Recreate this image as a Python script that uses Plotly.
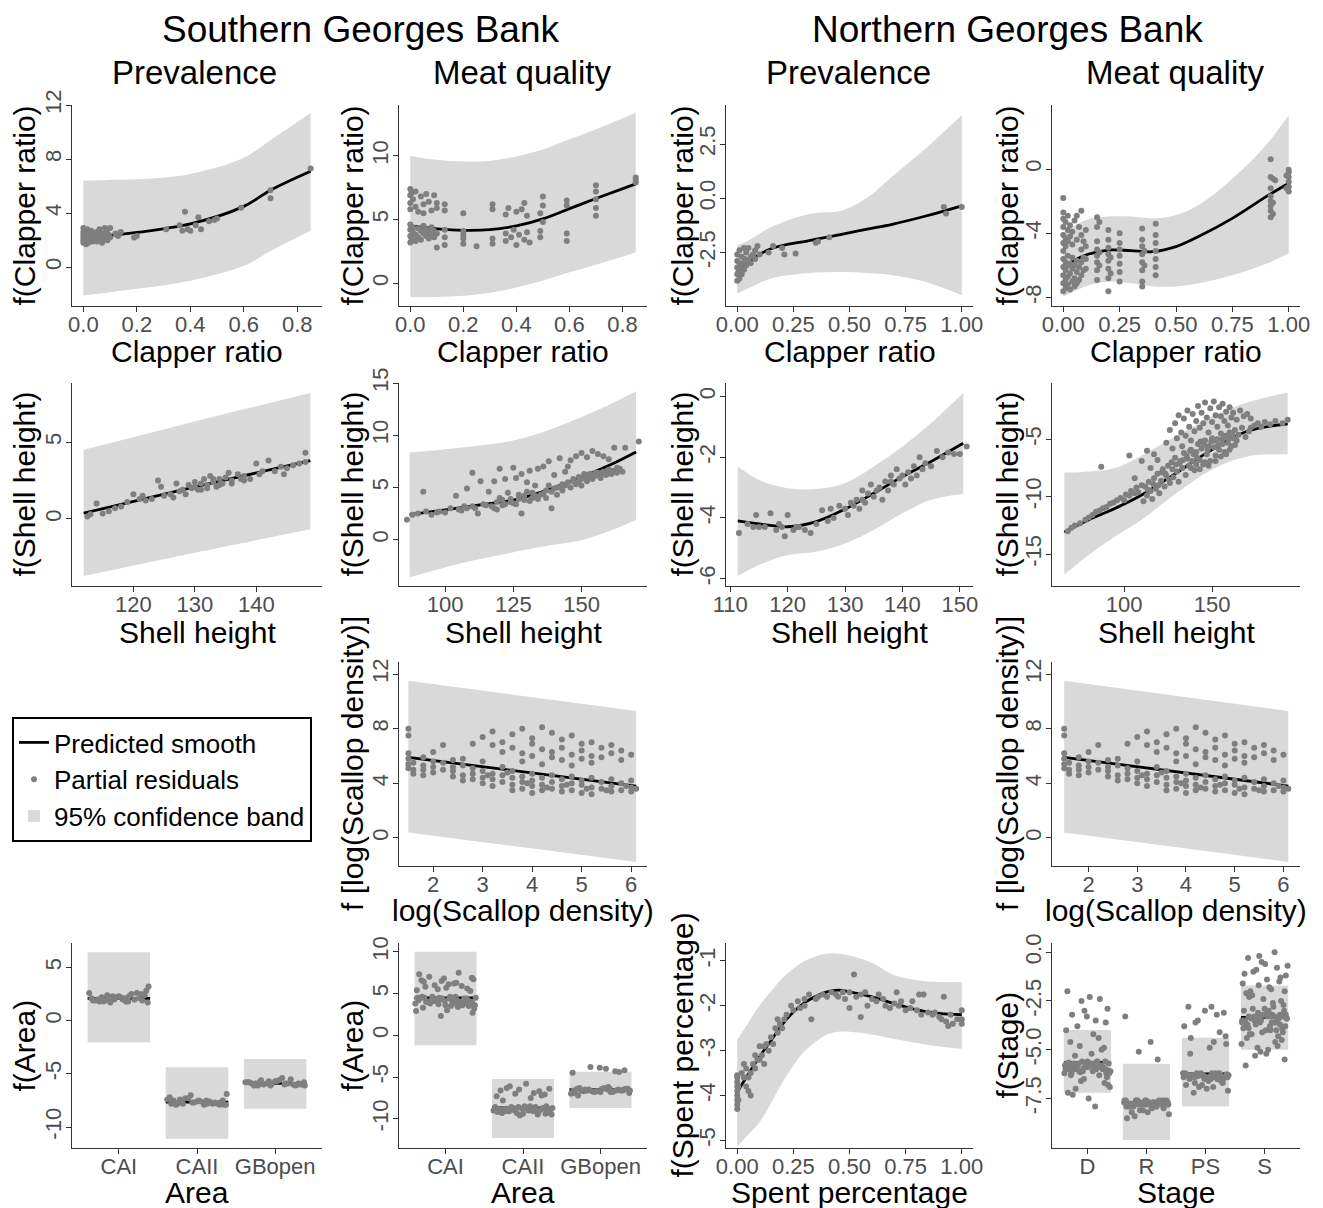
import plotly.graph_objects as go

FONT = "Liberation Sans, Arial, Helvetica, sans-serif"
BAND = "#d9d9d9"
PT = "#7f7f7f"
TICKC = "#4d4d4d"
AXC = "#333333"
OFF = 8                      # page body margin of the html page
W, H = 1323 - OFF, 1208 - OFF
COLS = [(72, 322), (399, 647), (726, 973), (1052, 1300)]     # screen px
ROWS = [(105, 306), (383, 586), (662, 866), (943, 1148)]
YTITLE_X = [24, 352, 682, 1007]
XTITLE_DY = [46, 46, 44, 44]


def fx(p):
    return (p - OFF) / W


def fy(p):
    return 1 - (p - OFF) / H


# ---------------- data ----------------
s_prev_cr_x = [0, 0.1, 0.2, 0.4, 0.6, 0.7, 0.85]
s_prev_cr_fit = [2.2, 2.35, 2.57, 3.2, 4.5, 5.7, 7.1]
s_prev_cr_lo = [-2.1, -1.85, -1.6, -1.0, 0.1, 1.2, 2.7]
s_prev_cr_hi = [6.4, 6.45, 6.5, 6.9, 8.1, 9.4, 11.4]
s_prev_cr_res = [(0.0, 1.8), (0.0, 2.2), (0.0, 2.6), (0.0, 2.0), (0.0, 2.9), (0.0, 2.4), (0.005, 1.9), (0.005, 2.7),
                 (0.01, 2.1), (0.01, 2.5), (0.01, 1.7), (0.015, 2.3), (0.015, 2.8), (0.02, 2.0), (0.02, 2.6), (0.02, 1.8),
                 (0.025, 2.4), (0.03, 2.2), (0.03, 2.7), (0.035, 1.9), (0.04, 2.5), (0.04, 2.1), (0.045, 2.3), (0.05, 2.6),
                 (0.05, 1.9), (0.055, 2.4), (0.06, 2.2), (0.06, 2.8), (0.065, 2.0), (0.07, 2.5), (0.07, 1.8), (0.075, 2.3),
                 (0.08, 2.9), (0.08, 2.1), (0.085, 2.6), (0.09, 2.0), (0.09, 2.8), (0.095, 2.4), (0.1, 2.9), (0.1, 2.2),
                 (0.12, 2.5), (0.13, 2.3), (0.14, 2.6), (0.19, 2.2), (0.2, 2.3), (0.31, 2.8), (0.36, 3.1), (0.37, 2.7),
                 (0.38, 4.1), (0.39, 2.8), (0.4, 2.7), (0.42, 3.1), (0.43, 3.7), (0.44, 2.8), (0.47, 3.4), (0.49, 3.5),
                 (0.5, 3.6), (0.59, 4.4), (0.7, 5.7), (0.7, 5.1), (0.85, 7.3)]

s_meat_cr_x = [0, 0.1, 0.2, 0.3, 0.4, 0.5, 0.6, 0.7, 0.85]
s_meat_cr_fit = [4.5, 4.27, 4.15, 4.2, 4.5, 5.05, 5.85, 6.65, 7.8]
s_meat_cr_lo = [-1.1, -1.1, -1.0, -0.75, -0.35, 0.2, 0.85, 1.45, 2.4]
s_meat_cr_hi = [10.0, 9.7, 9.55, 9.6, 9.95, 10.5, 11.3, 12.1, 13.4]
s_meat_cr_res = [(0, 7.4), (0, 6.9), (0, 6.3), (0, 5.8), (0.005, 7.1), (0.01, 6.6), (0.02, 6.0), (0.02, 7.2), (0.03, 5.6),
                 (0.04, 6.8), (0.05, 6.2), (0.05, 5.5), (0.06, 7.0), (0.07, 6.4), (0.08, 5.7), (0.09, 6.9), (0.1, 6.3),
                 (0.1, 5.9), (0, 3.2), (0, 3.7), (0, 4.2), (0, 4.6), (0.005, 3.5), (0.01, 4.0), (0.01, 4.4), (0.02, 3.3),
                 (0.02, 3.8), (0.03, 4.3), (0.03, 3.6), (0.04, 4.1), (0.04, 3.4), (0.05, 3.9), (0.05, 4.5), (0.06, 3.7),
                 (0.06, 4.2), (0.07, 3.5), (0.07, 4.0), (0.08, 3.8), (0.08, 4.4), (0.09, 3.6), (0.09, 4.1), (0.1, 2.8),
                 (0.1, 3.9), (0.13, 3.0), (0.13, 3.6), (0.13, 4.2), (0.13, 5.7), (0.13, 6.2), (0.2, 3.5), (0.2, 3.8),
                 (0.2, 4.1), (0.2, 3.1), (0.2, 5.5), (0.25, 2.9), (0.31, 3.1), (0.31, 3.5), (0.31, 5.8), (0.31, 6.2),
                 (0.36, 3.3), (0.36, 3.9), (0.36, 5.4), (0.37, 5.9), (0.38, 3.6), (0.39, 4.2), (0.4, 3.0), (0.4, 5.6),
                 (0.41, 3.8), (0.42, 5.8), (0.43, 3.4), (0.43, 6.3), (0.44, 4.0), (0.44, 5.3), (0.45, 3.2), (0.49, 3.6),
                 (0.49, 4.1), (0.49, 5.5), (0.5, 4.8), (0.5, 6.1), (0.5, 6.8), (0.59, 3.3), (0.59, 3.9), (0.59, 6.1),
                 (0.59, 6.5), (0.7, 5.3), (0.7, 5.9), (0.7, 6.6), (0.7, 7.2), (0.7, 7.7), (0.85, 7.9), (0.85, 8.1),
                 (0.85, 8.3)]

n_prev_cr_x = [0, 0.05, 0.15, 0.32, 0.47, 0.58, 0.69, 0.84, 1.0]
n_prev_cr_fit = [-3.5, -2.95, -2.33, -1.95, -1.65, -1.42, -1.2, -0.82, -0.35]
n_prev_cr_lo = [-4.39, -4.15, -3.7, -3.45, -3.4, -3.45, -3.55, -3.86, -4.47]
n_prev_cr_hi = [-2.18, -1.95, -1.34, -0.73, -0.55, 0.03, 1.0, 2.3, 3.84]
n_prev_cr_res = [(0, -3.8), (0, -3.5), (0, -3.2), (0, -2.9), (0, -2.6), (0.005, -3.4), (0.01, -3.7), (0.01, -3.0),
                 (0.01, -2.4), (0.015, -3.2), (0.02, -2.7), (0.02, -3.5), (0.025, -3.0), (0.03, -2.3), (0.03, -3.3),
                 (0.035, -2.8), (0.04, -3.1), (0.04, -2.5), (0.05, -2.9), (0.05, -2.3), (0.06, -2.7), (0.06, -3.0),
                 (0.07, -2.6), (0.08, -2.4), (0.08, -2.8), (0.09, -2.2), (0.1, -2.6), (0.14, -2.5), (0.16, -2.2),
                 (0.2, -2.3), (0.21, -2.6), (0.26, -2.55), (0.35, -2.05), (0.36, -2.0), (0.41, -1.8), (0.92, -0.4),
                 (0.93, -0.7), (1.0, -0.4)]

n_meat_cr_x = [0, 0.1, 0.2, 0.3, 0.4, 0.5, 0.6, 0.75, 0.9, 1.0]
n_meat_cr_fit = [-6.07, -5.35, -5.04, -5.08, -5.14, -4.83, -4.2, -3.07, -1.72, -0.89]
n_meat_cr_lo = [-7.94, -7.3, -7.0, -7.1, -7.3, -7.3, -7.1, -6.6, -5.9, -5.24]
n_meat_cr_hi = [-4.0, -3.17, -2.96, -2.96, -3.07, -2.86, -2.24, -0.6, 1.5, 3.36]
n_meat_cr_res = [(0, -7.6), (0, -7.1), (0, -6.6), (0, -6.1), (0, -5.6), (0, -5.1), (0, -4.6), (0, -4.1), (0, -3.6),
                 (0, -3.1), (0, -2.7), (0, -1.8), (0.01, -7.4), (0.01, -6.9), (0.01, -6.3), (0.01, -5.8), (0.01, -4.8),
                 (0.01, -4.3), (0.01, -3.3), (0.02, -7.2), (0.02, -6.7), (0.02, -6.0), (0.02, -5.4), (0.02, -4.5),
                 (0.02, -3.8), (0.02, -2.9), (0.03, -7.5), (0.03, -6.5), (0.03, -5.9), (0.03, -4.2), (0.03, -3.5),
                 (0.04, -7.0), (0.04, -6.2), (0.04, -5.5), (0.04, -4.7), (0.04, -3.9), (0.05, -7.3), (0.05, -6.8),
                 (0.05, -6.0), (0.05, -3.2), (0.06, -7.1), (0.06, -6.4), (0.06, -5.7), (0.06, -4.4), (0.06, -2.9),
                 (0.07, -6.9), (0.07, -6.1), (0.07, -3.6), (0.08, -6.6), (0.08, -5.8), (0.08, -5.0), (0.08, -4.1),
                 (0.08, -2.6), (0.09, -6.3), (0.09, -5.5), (0.09, -4.5), (0.1, -6.2), (0.1, -5.6), (0.1, -4.8),
                 (0.1, -3.8), (0.15, -6.9), (0.15, -6.3), (0.15, -5.8), (0.15, -5.4), (0.15, -5.0), (0.15, -4.5),
                 (0.15, -3.6), (0.15, -3.0), (0.16, -6.0), (0.16, -5.2), (0.16, -3.3), (0.2, -7.6), (0.2, -6.8),
                 (0.2, -6.2), (0.2, -5.7), (0.2, -5.3), (0.2, -4.9), (0.2, -4.4), (0.2, -3.8), (0.21, -6.5),
                 (0.21, -5.5), (0.25, -7.0), (0.25, -6.4), (0.25, -5.9), (0.25, -5.4), (0.25, -5.0), (0.25, -4.6),
                 (0.25, -4.0), (0.35, -7.3), (0.35, -7.0), (0.35, -6.3), (0.35, -5.8), (0.35, -5.3), (0.35, -4.8),
                 (0.35, -4.4), (0.35, -3.7), (0.36, -6.0), (0.36, -5.1), (0.41, -6.6), (0.41, -6.1), (0.41, -5.6),
                 (0.41, -5.1), (0.41, -4.6), (0.41, -4.1), (0.41, -3.4), (0.92, -3.0), (0.92, -2.6), (0.92, -2.3),
                 (0.92, -2.0), (0.92, -1.7), (0.92, -1.2), (0.92, -0.5), (0.92, 0.6), (0.93, -2.8), (0.93, -2.1),
                 (0.93, -0.6), (0.94, -0.7), (1.0, -1.4), (1.0, -1.1), (1.0, -0.8), (1.0, -0.5), (1.0, -0.2),
                 (1.0, -0.05), (0.99, -1.2), (0.99, -0.4)]

s_prev_sh_x = [111.9, 130, 148.8]
s_prev_sh_fit = [0.37, 2.08, 3.8]
s_prev_sh_lo = [-3.72, -2.2, -0.67]
s_prev_sh_hi = [4.5, 6.35, 8.2]
s_prev_sh_res = [(112.5, 0.15), (113, 0.3), (114, 1.0), (115, 0.35), (116, 0.5), (117, 0.7), (118, 0.8), (119, 1.1),
                 (120, 1.6), (121, 1.3), (121.5, 1.5), (122, 1.2), (123, 1.3), (124, 2.5), (124.5, 2.1), (125, 1.5),
                 (126, 1.6), (126.5, 1.4), (127, 2.3), (127.5, 1.8), (128, 1.9), (128.5, 1.6), (129, 2.2), (129.5, 2.0),
                 (130, 2.4), (130.5, 1.9), (131, 2.3), (131.5, 2.6), (132, 2.2), (132.5, 2.8), (133, 2.4), (133.5, 2.1),
                 (134, 2.6), (134.5, 2.3), (135, 2.7), (135.5, 3.0), (136, 2.5), (137, 2.9), (137.5, 2.6), (138, 2.8),
                 (139, 2.6), (140, 3.6), (140.5, 2.9), (141, 3.1), (142, 3.8), (143, 3.1), (144, 3.4), (144.5, 2.9),
                 (145, 3.3), (146, 3.5), (147, 3.6), (148, 4.3), (148, 3.7), (130, 2.1), (131, 1.9), (132, 2.0),
                 (133, 2.6), (134, 2.2), (136, 2.3), (138, 2.5)]

s_meat_sh_x = [87, 100, 112, 125, 137, 150, 160, 170]
s_meat_sh_fit = [2.4, 2.85, 3.3, 3.8, 4.7, 6.0, 7.1, 8.4]
s_meat_sh_lo = [-3.6, -2.65, -1.9, -1.2, -0.6, -0.06, 0.8, 1.88]
s_meat_sh_hi = [8.35, 8.67, 9.0, 9.5, 10.4, 11.75, 12.9, 14.2]
s_meat_sh_res = [(86, 1.9), (88, 2.4), (92, 4.6), (95, 2.4), (98, 2.7), (100, 2.6), (104, 4.2), (105, 2.9), (108, 3.0),
                 (108, 4.9), (110, 6.4), (110, 3.2), (112, 2.5), (113, 5.6), (115, 3.3), (116, 4.6), (118, 5.6),
                 (118, 3.0), (119, 3.6), (120, 6.8), (120, 4.0), (121, 3.3), (122, 5.8), (123, 4.5), (124, 3.9),
                 (125, 6.9), (125, 3.5), (126, 5.9), (127, 4.3), (128, 6.3), (128, 2.5), (129, 3.8), (130, 5.5),
                 (130, 4.6), (131, 6.6), (132, 4.0), (133, 5.2), (134, 6.8), (135, 4.3), (136, 7.0), (137, 4.7),
                 (138, 7.5), (138, 5.2), (139, 3.0), (140, 6.2), (141, 5.0), (142, 7.8), (143, 5.3), (144, 6.5),
                 (145, 7.0), (145, 5.5), (146, 7.6), (147, 5.8), (148, 8.0), (149, 6.0), (150, 8.3), (150, 5.2),
                 (151, 6.3), (152, 7.9), (153, 6.0), (154, 8.5), (155, 6.4), (156, 8.2), (157, 6.2), (158, 8.0),
                 (159, 6.5), (160, 7.7), (161, 6.6), (162, 8.8), (163, 6.4), (164, 6.8), (166, 8.8), (171, 9.4),
                 (90, 2.5), (93, 2.7), (97, 2.6), (102, 3.0), (106, 2.8), (107, 3.2), (111, 3.0), (114, 3.4),
                 (117, 3.2), (119, 2.9), (121, 3.8), (122, 3.4), (124, 3.6), (126, 3.4), (127, 3.9), (129, 4.2),
                 (131, 3.7), (132, 4.5), (133, 4.2), (134, 3.9), (136, 4.4), (137, 4.0), (139, 4.6), (140, 4.9),
                 (141, 4.3), (142, 5.0), (143, 4.7), (144, 5.2), (146, 5.0), (147, 5.6), (148, 5.3), (149, 5.6),
                 (150, 5.8), (151, 6.0), (152, 5.6), (153, 6.3), (154, 5.8), (155, 6.1), (156, 6.4), (157, 5.9),
                 (158, 6.5), (159, 6.2), (160, 6.7), (161, 6.3), (162, 6.6), (163, 6.9), (165, 6.5)]

n_prev_sh_x = [111.3, 115, 120, 125, 130, 135, 140, 145, 150.6]
n_prev_sh_fit = [-4.1, -4.2, -4.29, -4.12, -3.71, -3.19, -2.64, -2.14, -1.54]
n_prev_sh_lo = [-5.91, -5.55, -5.22, -5.11, -4.84, -4.4, -3.85, -3.4, -3.21]
n_prev_sh_hi = [-2.31, -2.75, -3.02, -3.05, -2.86, -2.31, -1.65, -0.88, 0.11]
n_prev_sh_res = [(111.5, -4.5), (113, -4.2), (114, -4.3), (114.5, -3.9), (115, -4.3), (116, -4.3), (117, -3.85),
                 (118, -4.4), (119, -4.3), (119.5, -4.6), (120, -3.9), (121, -4.4), (122, -4.3), (123, -4.4),
                 (124, -4.5), (125, -4.2), (126, -3.75), (127, -4.1), (127.5, -3.7), (128, -4.0), (129, -3.6),
                 (130, -3.7), (130.5, -3.9), (131, -3.5), (132, -3.4), (132.5, -3.7), (133, -3.1), (133.5, -3.5),
                 (134, -3.2), (134.5, -2.9), (135, -3.3), (136, -3.0), (136.5, -3.4), (137, -2.8), (137.5, -3.1),
                 (138, -2.6), (138.5, -2.9), (139, -2.4), (139.5, -2.7), (140, -2.6), (140.5, -2.9), (141, -2.5),
                 (142, -2.3), (142.5, -2.6), (143, -2.0), (143.5, -2.4), (144, -2.2), (145, -2.3), (146, -1.8),
                 (147, -2.0), (148, -1.85), (149, -1.9), (150, -1.9), (151.2, -1.65), (131.5, -3.6), (133, -3.4),
                 (135.5, -3.1), (138, -2.8), (141.5, -2.7), (121.5, -4.3), (118.5, -4.2)]

n_meat_sh_x = [66, 80, 95, 110, 130, 150, 170, 193]
n_meat_sh_fit = [-13.08, -12.0, -11.0, -9.85, -7.9, -5.9, -4.3, -3.65]
n_meat_sh_lo = [-16.8, -15.06, -13.45, -12.0, -9.66, -7.62, -6.5, -6.31]
n_meat_sh_hi = [-7.9, -7.8, -7.5, -6.4, -4.7, -3.0, -1.8, -0.92]
n_meat_sh_res = [(68, -13.0), (70, -12.7), (72, -12.5), (75, -12.3), (78, -12.0), (80, -11.8), (82, -11.6),
                 (84, -11.3), (86, -11.2), (88, -11.0), (90, -10.9), (92, -10.6), (94, -10.5), (96, -10.3),
                 (98, -10.1), (100, -10.3), (101, -9.8), (103, -9.9), (104, -9.5), (106, -9.7), (107, -9.2),
                 (108, -9.6), (110, -9.0),
                 (111, -10.4), (112, -9.1), (113, -9.9), (114, -8.7), (115, -9.5), (116, -10.2), (117, -8.4),
                 (118, -9.3), (119, -8.0), (120, -9.7), (121, -8.6), (122, -7.6), (123, -9.1), (124, -8.2),
                 (125, -7.3), (126, -8.8), (127, -7.0), (128, -8.3), (129, -6.6), (130, -7.8), (131, -8.7),
                 (132, -6.9), (133, -7.5), (134, -6.2), (135, -8.1), (136, -6.7), (137, -7.3), (138, -5.9),
                 (139, -6.9), (140, -7.7), (141, -6.1), (142, -5.4), (143, -6.8), (144, -5.8), (145, -7.2),
                 (146, -5.1), (147, -6.3), (148, -5.6), (149, -6.9), (150, -4.9), (151, -5.7), (152, -6.4),
                 (153, -5.0), (154, -5.9), (155, -4.5), (156, -5.4), (157, -6.1), (158, -4.8), (159, -5.3),
                 (160, -4.4), (161, -5.6), (162, -4.9), (163, -4.2), (164, -5.1), (165, -4.6), (167, -4.0),
                 (169, -4.8), (171, -4.3),
                 (113.5, -9.4), (116.5, -8.9), (119.5, -9.0), (121.5, -7.9), (123.5, -8.0), (125.5, -8.5),
                 (127.5, -7.6), (129.5, -7.2), (131.5, -7.1), (133.5, -6.8), (135.5, -6.4), (137.5, -6.0),
                 (139.5, -6.3), (141.5, -6.6), (143.5, -5.2), (145.5, -5.5), (147.5, -5.9), (149.5, -5.2),
                 (151.5, -5.1), (153.5, -5.5), (155.5, -5.0), (157.5, -4.7), (159.5, -4.9), (161.5, -4.6),
                 (124, -5.3), (126, -4.2), (127.5, -5.8), (129, -3.6), (130, -4.9), (131, -2.9), (132.5, -4.4),
                 (133, -5.6), (134, -3.2), (135, -4.7), (136, -2.5), (137, -3.9), (138, -5.1), (139, -2.8),
                 (140, -4.3), (141, -3.4), (142, -2.1), (143, -4.0), (144, -2.7), (145, -3.6), (146, -1.8),
                 (147, -3.1), (148, -4.4), (149, -2.3), (150, -3.5), (151, -1.7), (152, -2.9), (153, -3.9),
                 (154, -2.2), (155, -3.0), (156, -1.9), (157, -3.4), (158, -2.6), (159, -3.8), (160, -2.2),
                 (161, -3.1), (162, -2.7), (164, -3.3), (166, -2.5), (168, -3.0), (170, -2.8), (172, -3.2),
                 (138, -7.5), (141, -7.2), (143, -7.6), (146, -7.0), (148, -7.3), (152, -6.9), (155, -6.5),
                 (158, -6.3), (160, -5.9), (163, -5.5),
                 (172, -4.0), (174, -3.8), (176, -3.6), (178, -3.9), (180, -3.5), (183, -3.7), (186, -3.4),
                 (190, -3.6), (193, -3.3),
                 (87, -7.4), (103, -6.4), (106, -8.4), (110, -6.9), (113, -6.0), (115, -7.5), (117, -6.3),
                 (119, -6.8)]

ld_x = [1.5, 6.1]
ld_fit = [5.9, 3.8]
ld_lo = [0.4, -1.75]
ld_hi = [11.5, 9.3]
ld_res = [(1.5, 8.0), (1.5, 7.5), (1.5, 6.2), (1.5, 5.8), (1.5, 5.4), (1.5, 5.1), (1.6, 5.5), (1.6, 5.0), (1.6, 4.7),
          (1.8, 5.9), (1.8, 5.3), (1.8, 5.0), (1.8, 4.6), (2.0, 6.3), (2.0, 5.6), (2.0, 5.2), (2.0, 4.8), (2.2, 5.5),
          (2.2, 5.0), (2.2, 6.8), (2.4, 5.7), (2.4, 5.2), (2.4, 4.9), (2.4, 4.5), (2.6, 5.8), (2.6, 5.3), (2.6, 4.6),
          (2.6, 4.2), (2.8, 6.9), (2.8, 5.1), (2.8, 4.7), (2.8, 4.3), (3.0, 7.4), (3.0, 5.6), (3.0, 4.9), (3.0, 4.4),
          (3.0, 4.0), (3.2, 7.8), (3.2, 6.8), (3.2, 4.7), (3.2, 4.3), (3.2, 3.8), (3.4, 7.0), (3.4, 6.3), (3.4, 5.2),
          (3.4, 4.6), (3.4, 4.1), (3.6, 7.6), (3.6, 6.6), (3.6, 4.9), (3.6, 4.4), (3.6, 3.9), (3.6, 3.5), (3.8, 8.0),
          (3.8, 6.2), (3.8, 5.6), (3.8, 4.5), (3.8, 4.1), (3.8, 3.6), (4.0, 7.3), (4.0, 6.9), (4.0, 6.0), (4.0, 4.7),
          (4.0, 4.2), (4.0, 3.8), (4.0, 3.3), (4.2, 8.1), (4.2, 6.5), (4.2, 5.4), (4.2, 4.4), (4.2, 3.9), (4.2, 3.5),
          (4.4, 7.7), (4.4, 6.3), (4.4, 5.9), (4.4, 4.6), (4.4, 4.1), (4.4, 3.6), (4.6, 7.2), (4.6, 6.6), (4.6, 5.7),
          (4.6, 4.3), (4.6, 3.8), (4.6, 3.4), (4.8, 7.5), (4.8, 6.1), (4.8, 5.3), (4.8, 4.5), (4.8, 4.0), (4.8, 3.5),
          (5.0, 6.9), (5.0, 6.4), (5.0, 5.8), (5.0, 4.2), (5.0, 3.9), (5.0, 3.3), (5.2, 7.0), (5.2, 6.0), (5.2, 5.5),
          (5.2, 4.4), (5.2, 3.7), (5.2, 3.2), (5.4, 6.6), (5.4, 5.9), (5.4, 4.1), (5.4, 3.6), (5.6, 6.8), (5.6, 6.2),
          (5.6, 4.3), (5.6, 3.8), (5.6, 3.4), (5.8, 6.4), (5.8, 5.7), (5.8, 4.0), (5.8, 3.5), (6.0, 6.1), (6.0, 4.2),
          (6.0, 3.7), (6.0, 3.4), (6.1, 3.6), (3.1, 4.6), (3.5, 4.8), (3.9, 4.0), (4.3, 3.7), (4.7, 3.9), (5.1, 3.6),
          (5.5, 3.5), (5.9, 3.8)]

n_prev_sp_x = [0, 0.05, 0.1, 0.15, 0.2, 0.25, 0.3, 0.35, 0.4, 0.45, 0.5, 0.6, 0.7, 0.8, 0.9, 1.0]
n_prev_sp_fit = [-3.92, -3.52, -3.13, -2.78, -2.42, -2.14, -1.93, -1.79, -1.69, -1.65, -1.69, -1.8, -1.95, -2.09, -2.17, -2.2]
n_prev_sp_lo = [-5.14, -4.87, -4.59, -4.17, -3.72, -3.33, -3.01, -2.8, -2.64, -2.58, -2.58, -2.64, -2.74, -2.83, -2.91, -2.96]
n_prev_sp_hi = [-2.76, -2.37, -1.99, -1.68, -1.39, -1.17, -1.0, -0.9, -0.84, -0.84, -0.88, -1.04, -1.32, -1.43, -1.47, -1.47]
n_prev_sp_res = [(0, -4.3), (0, -4.2), (0, -4.1), (0, -4.0), (0, -3.9), (0, -3.8), (0, -3.7), (0, -3.6), (0, -3.55),
                 (0.005, -4.1), (0.005, -3.8), (0.02, -3.5), (0.03, -3.3), (0.03, -3.6), (0.04, -3.8), (0.04, -3.4),
                 (0.05, -3.9), (0.05, -3.6), (0.06, -4.0), (0.06, -3.5), (0.07, -3.3), (0.08, -3.1), (0.08, -3.4),
                 (0.09, -3.2), (0.1, -2.9), (0.1, -3.2), (0.11, -3.1), (0.12, -2.9), (0.12, -3.3), (0.13, -2.85),
                 (0.14, -3.0), (0.15, -2.7), (0.16, -2.85), (0.17, -2.5), (0.18, -2.3), (0.18, -2.6), (0.19, -2.4),
                 (0.2, -2.5), (0.21, -2.3), (0.22, -2.2), (0.24, -2.0), (0.25, -2.1), (0.27, -1.9), (0.28, -2.05),
                 (0.3, -1.85), (0.3, -2.0), (0.32, -1.75), (0.33, -2.3), (0.35, -1.85), (0.36, -1.8), (0.38, -1.75),
                 (0.4, -1.8), (0.42, -1.7), (0.44, -1.75), (0.45, -1.8), (0.47, -1.7), (0.48, -1.85), (0.5, -1.7),
                 (0.5, -2.05), (0.52, -1.3), (0.53, -1.8), (0.55, -1.75), (0.55, -2.25), (0.57, -1.7), (0.58, -2.0),
                 (0.6, -1.85), (0.62, -1.9), (0.63, -1.75), (0.65, -1.85), (0.66, -2.0), (0.68, -2.05), (0.7, -1.95),
                 (0.71, -1.7), (0.72, -2.0), (0.73, -1.9), (0.75, -2.1), (0.77, -2.05), (0.78, -1.9), (0.8, -2.1),
                 (0.81, -1.75), (0.82, -2.2), (0.83, -1.75), (0.85, -2.15), (0.87, -2.2), (0.88, -2.15),
                 (0.9, -2.25), (0.91, -2.3), (0.92, -1.8), (0.93, -2.35), (0.94, -2.45), (0.95, -2.2), (0.96, -2.4),
                 (0.98, -2.3), (1.0, -2.1), (1.0, -2.3), (1.0, -2.4)]

areas = ["CAI", "CAII", "GBopen"]
s_prev_area_fit = [2.1, -7.65, -5.9]
s_prev_area_lo = [-2.04, -11.1, -8.28]
s_prev_area_hi = [6.43, -4.39, -3.6]
s_prev_area_res = [
    [2.1, 1.8, 2.3, 1.9, 2.2, 2.0, 1.7, 2.4, 2.0, 1.9, 2.3, 2.1, 2.6, 1.8, 2.2, 2.4, 1.9, 2.5, 2.0, 2.6,
     1.7, 3.2, 1.9, 2.2, 2.5, 1.8, 2.3, 2.0, 2.8, 1.8, 2.1, 2.0],
    [-7.2, -7.5, -7.0, -7.7, -7.4, -7.6, -7.9, -7.3, -7.8, -7.5, -7.6, -7.8, -7.4, -7.9, -7.7, -7.5, -7.8, -7.6,
     -7.9, -7.7, -7.3, -6.9, -7.8, -7.5, -7.9, -7.6, -7.8, -7.7, -7.9, -7.8],
    [-5.8, -6.0, -5.7, -5.9, -6.1, -5.6, -5.8, -6.0, -5.5, -5.9, -5.7, -6.1, -5.8, -5.4, -5.9, -6.0, -5.6, -5.9,
     -6.1, -6.0, -5.9, -6.1, -5.8, -5.7, -6.0, -5.8, -5.9, -6.1, -6.0, -5.9]]
s_meat_area_fit = [4.49, -8.7, -6.52]
s_meat_area_lo = [-1.19, -12.29, -8.7]
s_meat_area_hi = [10.0, -5.25, -4.37]
s_meat_area_res = [
    [4.2, 3.8, 4.5, 3.5, 4.0, 4.4, 3.2, 4.1, 3.9, 4.6, 3.6, 4.3, 2.9, 4.0, 4.4, 3.7, 4.2, 3.4, 4.5, 3.9,
     4.1, 3.6, 4.4, 3.0, 4.2, 3.8, 4.6, 2.3, 2.7, 4.0, 3.5, 4.3, 3.9, 4.5, 3.7, 4.1, 4.4, 3.3, 4.2, 4.6,
     6.3, 5.8, 6.9, 5.5, 6.1, 7.3, 5.9, 6.5, 5.6, 7.0, 6.2, 5.4, 6.7, 6.0, 5.7, 6.4, 7.5, 5.3, 6.8, 6.6,
     4.3, 3.9, 4.1, 4.5, 3.7, 4.2, 4.0, 4.4, 3.8, 4.6, 4.1, 3.6, 4.3, 4.0, 4.5, 3.9],
    [-9.0, -8.7, -9.3, -8.5, -9.1, -8.8, -9.5, -8.6, -9.2, -8.9, -9.4, -8.7, -9.0, -8.5, -9.6, -8.8, -9.1, -8.6,
     -9.3, -8.9, -9.0, -8.7, -9.2, -8.5, -9.4, -8.8, -9.1, -8.6, -9.3, -8.9, -9.0, -8.7, -9.5, -8.6, -9.2, -8.8,
     -7.2, -6.6, -7.5, -6.1, -6.9, -7.8, -6.4, -7.0, -5.8, -7.3, -6.7, -6.5, -7.1, -6.3],
    [-6.6, -6.4, -6.8, -6.5, -6.7, -6.3, -6.9, -6.5, -6.6, -6.4, -6.8, -6.6, -7.0, -6.5, -6.7, -6.4, -6.6, -6.8,
     -6.3, -6.5, -6.7, -6.6, -6.9, -6.4, -6.6, -6.5, -6.8, -6.7, -6.4, -6.6, -4.0, -3.8, -4.3, -4.5, -4.2,
     -3.9, -4.4, -7.2, -6.2, -6.6]]
stages = ["D", "R", "PS", "S"]
n_meat_stage_fit = [-5.64, -7.73, -6.24, -3.34]
n_meat_stage_lo = [-7.2, -9.62, -7.9, -5.0]
n_meat_stage_hi = [-3.98, -5.72, -4.38, -1.71]
n_meat_stage_res = [
    [-5.7, -5.9, -6.1, -5.6, -6.0, -5.8, -6.2, -5.7, -6.3, -5.9, -5.6, -6.0, -5.8, -6.1, -5.7, -6.4, -5.9, -5.6,
     -6.2, -5.8, -6.6, -6.9, -7.2, -7.5, -6.7, -7.0, -7.9, -6.5, -6.8, -7.3, -5.2, -4.8, -4.4, -4.0, -3.6,
     -3.3, -5.0, -4.6, -4.2, -3.8, -3.5, -3.2, -2.9, -2.5, -2.3, -2.0, -2.4, -3.0, -4.9, -5.3, -5.8, -6.0,
     -5.7, -6.1, -5.9, -6.3, -5.6, -6.2, -5.8, -6.0, -5.7, -5.9, -5.8, -6.1, -5.6, -6.0, -5.8, -5.9, -6.2, -5.7,
     -5.75, -5.85, -5.95, -6.05, -5.65, -5.9, -6.15, -5.8, -6.0, -5.7],
    [-7.6, -7.7, -7.8, -7.6, -7.9, -7.7, -7.8, -7.6, -7.7, -7.9, -7.8, -7.6, -7.7, -8.0, -7.8, -7.7, -7.6, -7.9,
     -7.8, -7.7, -8.1, -8.3, -8.5, -8.2, -8.0, -8.4, -7.9, -8.1, -7.8, -8.2, -4.6, -5.1, -5.5, -3.3, -7.7,
     -7.6, -7.8, -7.9, -7.7, -7.6, -7.7, -7.8, -7.6, -7.7, -7.8, -7.9, -7.6, -7.7, -7.65, -7.75, -7.85,
     -7.6, -7.7, -7.8, -7.65, -7.75, -7.9, -7.7, -7.6, -7.8],
    [-6.3, -6.4, -6.2, -6.5, -6.3, -6.6, -6.4, -6.2, -6.5, -6.3, -6.4, -6.6, -6.2, -6.5, -6.3, -6.4, -6.7, -6.3,
     -6.5, -6.2, -6.9, -7.1, -6.8, -7.0, -6.7, -7.2, -6.9, -6.8, -4.7, -4.4, -4.9, -3.5, -3.2, -3.8, -3.1,
     -3.0, -4.1, -2.8, -2.8, -3.6, -4.6, -5.2, -4.3, -6.3, -6.4, -6.2, -6.5, -6.3, -6.4, -6.3, -6.2, -6.4,
     -6.25, -6.35, -6.45, -6.3, -6.2, -6.4, -6.5, -6.3, -6.35, -6.25, -6.4, -6.3],
    [-3.0, -3.3, -3.6, -3.9, -4.2, -3.1, -3.4, -3.7, -4.0, -4.4, -2.9, -3.2, -3.5, -3.8, -4.1, -3.0, -3.3, -3.6,
     -3.9, -4.3, -3.1, -3.4, -3.7, -4.0, -4.5, -2.9, -3.2, -3.5, -3.8, -4.2, -3.0, -3.3, -3.6, -3.9, -4.1,
     -3.2, -3.4, -3.7, -4.0, -3.5, -2.6, -2.3, -2.0, -1.7, -1.4, -1.1, -0.8, -0.5, -2.5, -2.2, -1.9, -1.6,
     -1.2, -0.9, -0.6, -0.3, 0.0, -2.7, -2.4, -2.1, -1.8, -1.5, -1.0, -0.7, -0.2, -2.8, -2.0, -1.3, -4.7,
     -5.0, -5.3, -4.8, -5.1, -5.5, -5.8, -4.6, -4.9, -5.2, -3.3, -3.4, -3.2, -3.5, -3.3, -3.6, -3.4, -3.2,
     -3.5, -3.3, -3.7, -3.4, -3.3, -3.6, -3.2, -3.4]]
jitter = [-0.35, 0.12, -0.08, 0.3, -0.22, 0.05, 0.37, -0.15, 0.2, -0.3, 0.0, 0.26, -0.38, 0.09, -0.04, 0.33,
          -0.18, 0.16, -0.27, 0.23, -0.11, 0.38, -0.33, 0.02, 0.29, -0.2, 0.13, -0.06, 0.35, -0.25, 0.07, -0.13,
          0.19, -0.36, 0.31, -0.01, 0.24, -0.29, 0.1, -0.17, 0.14, -0.26, 0.34, -0.1, 0.04, -0.34, 0.21, -0.05,
          0.28, -0.21, 0.11, -0.37, 0.36, -0.14, 0.01, -0.28, 0.17, 0.32, -0.02, -0.31, 0.08, 0.25, -0.19, 0.39,
          -0.09, 0.15, -0.24, 0.27, -0.39, 0.06, -0.16, 0.22, -0.07, 0.34, -0.32, 0.18, -0.12, 0.03, 0.3, -0.23,
          -0.03, 0.21, -0.27, 0.12, -0.15, 0.36, -0.33, 0.05, 0.26, -0.08, 0.17, -0.38, 0.31, -0.2, 0.09, -0.12]

panels = [
    dict(r=0, c=0, kind="cont", d=(s_prev_cr_x, s_prev_cr_fit, s_prev_cr_lo, s_prev_cr_hi, s_prev_cr_res),
         xr=[-0.0425, 0.8925], yr=[-2.87, 12.0], xt=[0, 0.2, 0.4, 0.6, 0.8], xd=1, yt=[0, 4, 8, 12], yd=0,
         xl="Clapper ratio", yl="f(Clapper ratio)", leg=True),
    dict(r=0, c=1, kind="cont", d=(s_meat_cr_x, s_meat_cr_fit, s_meat_cr_lo, s_meat_cr_hi, s_meat_cr_res),
         xr=[-0.0425, 0.8925], yr=[-1.8, 14.0], xt=[0, 0.2, 0.4, 0.6, 0.8], xd=1, yt=[0, 5, 10], yd=0,
         xl="Clapper ratio", yl="f(Clapper ratio)"),
    dict(r=0, c=2, kind="cont", d=(n_prev_cr_x, n_prev_cr_fit, n_prev_cr_lo, n_prev_cr_hi, n_prev_cr_res),
         xr=[-0.05, 1.05], yr=[-4.97, 4.3], xt=[0, 0.25, 0.5, 0.75, 1.0], xd=2, yt=[-2.5, 0, 2.5], yd=1,
         xl="Clapper ratio", yl="f(Clapper ratio)"),
    dict(r=0, c=3, kind="cont", d=(n_meat_cr_x, n_meat_cr_fit, n_meat_cr_lo, n_meat_cr_hi, n_meat_cr_res),
         xr=[-0.05, 1.05], yr=[-8.52, 3.98], xt=[0, 0.25, 0.5, 0.75, 1.0], xd=2, yt=[-8, -4, 0], yd=0,
         xl="Clapper ratio", yl="f(Clapper ratio)"),
    dict(r=1, c=0, kind="cont", d=(s_prev_sh_x, s_prev_sh_fit, s_prev_sh_lo, s_prev_sh_hi, s_prev_sh_res),
         xr=[110.0, 150.7], yr=[-4.37, 8.85], xt=[120, 130, 140], xd=0, yt=[0, 5], yd=0,
         xl="Shell height", yl="f(Shell height)"),
    dict(r=1, c=1, kind="cont", d=(s_meat_sh_x, s_meat_sh_fit, s_meat_sh_lo, s_meat_sh_hi, s_meat_sh_res),
         xr=[83.1, 174.0], yr=[-4.43, 15.0], xt=[100, 125, 150], xd=0, yt=[0, 5, 10, 15], yd=0,
         xl="Shell height", yl="f(Shell height)"),
    dict(r=1, c=2, kind="cont", d=(n_prev_sh_x, n_prev_sh_fit, n_prev_sh_lo, n_prev_sh_hi, n_prev_sh_res),
         xr=[109.25, 152.3], yr=[-6.24, 0.44], xt=[110, 120, 130, 140, 150], xd=0, yt=[-6, -4, -2, 0], yd=0,
         xl="Shell height", yl="f(Shell height)"),
    dict(r=1, c=3, kind="cont", d=(n_meat_sh_x, n_meat_sh_fit, n_meat_sh_lo, n_meat_sh_hi, n_meat_sh_res),
         xr=[59.0, 200.0], yr=[-17.77, -0.1], xt=[100, 150], xd=0, yt=[-15, -10, -5], yd=0,
         xl="Shell height", yl="f(Shell height)"),
    dict(r=2, c=1, kind="cont", d=(ld_x, ld_fit, ld_lo, ld_hi, ld_res),
         xr=[1.31, 6.32], yr=[-2.05, 12.88], xt=[2, 3, 4, 5, 6], xd=0, yt=[0, 4, 8, 12], yd=0,
         xl="log(Scallop density)", yl="f [log(Scallop density)]"),
    dict(r=2, c=3, kind="cont", d=(ld_x, ld_fit, ld_lo, ld_hi, ld_res),
         xr=[1.25, 6.34], yr=[-2.05, 12.88], xt=[2, 3, 4, 5, 6], xd=0, yt=[0, 4, 8, 12], yd=0,
         xl="log(Scallop density)", yl="f [log(Scallop density)]"),
    dict(r=3, c=0, kind="cat", d=(areas, s_prev_area_fit, s_prev_area_lo, s_prev_area_hi, s_prev_area_res),
         xr=[0.4, 3.6], yr=[-11.97, 7.3], yt=[-10, -5, 0, 5], yd=0, xl="Area", yl="f(Area)"),
    dict(r=3, c=1, kind="cat", d=(areas, s_meat_area_fit, s_meat_area_lo, s_meat_area_hi, s_meat_area_res),
         xr=[0.4, 3.6], yr=[-13.5, 11.05], yt=[-10, -5, 0, 5, 10], yd=0, xl="Area", yl="f(Area)"),
    dict(r=3, c=2, kind="cont", d=(n_prev_sp_x, n_prev_sp_fit, n_prev_sp_lo, n_prev_sp_hi, n_prev_sp_res),
         xr=[-0.05, 1.05], yr=[-5.17, -0.6], xt=[0, 0.25, 0.5, 0.75, 1.0], xd=2, yt=[-5, -4, -3, -2, -1], yd=0,
         xl="Spent percentage", yl="f(Spent percentage)"),
    dict(r=3, c=3, kind="cat", d=(stages, n_meat_stage_fit, n_meat_stage_lo, n_meat_stage_hi, n_meat_stage_res),
         xr=[0.4, 4.6], yr=[-10.03, 0.47], yt=[-7.5, -5, -2.5, 0], yd=1, xl="Stage", yl="f(Stage)"),
]

fig = go.Figure()
layout = {}
annotations = []
axis_common = dict(showline=True, linecolor=AXC, linewidth=1.4, ticks="outside", ticklen=5, tickcolor=AXC,
                   tickwidth=1.4, showgrid=False, zeroline=False, mirror=False, fixedrange=True,
                   automargin=False, tickfont=dict(size=22, color=TICKC, family=FONT))


def fmt(v, d):
    return f"{v:.{d}f}"


for i, p in enumerate(panels, start=1):
    xa = "x" if i == 1 else f"x{i}"
    ya = "y" if i == 1 else f"y{i}"
    x0, x1 = COLS[p["c"]]
    y0, y1 = ROWS[p["r"]]
    xaxis = dict(axis_common, domain=[fx(x0), fx(x1)], anchor=ya, range=p["xr"], ticklabelstandoff=-7)
    yaxis = dict(axis_common, domain=[fy(y1), fy(y0)], anchor=xa, range=p["yr"], tickangle=-90,
                 ticklabelstandoff=-4, tickvals=p["yt"], ticktext=[fmt(v, p["yd"]) for v in p["yt"]])
    if p["kind"] == "cont":
        xs, fit, lo, hi, res = p["d"]
        xaxis.update(tickvals=p["xt"], ticktext=[fmt(v, p["xd"]) for v in p["xt"]])
        leg = p.get("leg", False)
        fig.add_trace(go.Scatter(x=xs, y=lo, mode="lines", line=dict(width=0, shape="spline"), showlegend=False,
                                 hoverinfo="skip", xaxis=xa, yaxis=ya))
        fig.add_trace(go.Scatter(x=xs, y=hi, mode="lines", line=dict(width=0, shape="spline"), fill="tonexty",
                                 fillcolor=BAND, showlegend=False, xaxis=xa, yaxis=ya))
        fig.add_trace(go.Scatter(x=xs, y=fit, mode="lines", line=dict(color="black", width=2.8, shape="spline"),
                                 name="Predicted smooth", showlegend=leg, legendrank=1, xaxis=xa, yaxis=ya))
        fig.add_trace(go.Scatter(x=[a for a, b in res], y=[b for a, b in res], mode="markers",
                                 marker=dict(color=PT, size=6, line=dict(width=0)), name="Partial residuals",
                                 showlegend=leg, legendrank=2, xaxis=xa, yaxis=ya))
        if leg:
            fig.add_trace(go.Bar(x=[None], y=[None], marker=dict(color=BAND, line=dict(width=0)),
                                 name="95% confidence band", showlegend=True, legendrank=3, xaxis=xa, yaxis=ya))
    else:
        cats, fit, lo, hi, res = p["d"]
        pos = list(range(1, len(cats) + 1))
        xaxis.update(tickvals=pos, ticktext=cats)
        fig.add_trace(go.Bar(x=pos, y=[h - l for h, l in zip(hi, lo)], base=lo, width=0.8,
                             marker=dict(color=BAND, line=dict(width=0)), showlegend=False, hoverinfo="skip",
                             xaxis=xa, yaxis=ya))
        lx, ly = [], []
        for k, f in zip(pos, fit):
            lx += [k - 0.4, k + 0.4, None]
            ly += [f, f, None]
        fig.add_trace(go.Scatter(x=lx, y=ly, mode="lines", line=dict(color="black", width=2.8),
                                 showlegend=False, xaxis=xa, yaxis=ya))
        px_, py_ = [], []
        for k, ys in zip(pos, res):
            for j, yv in enumerate(ys):
                px_.append(k + jitter[j % len(jitter)])
                py_.append(yv)
        fig.add_trace(go.Scatter(x=px_, y=py_, mode="markers", marker=dict(color=PT, size=6, line=dict(width=0)),
                                 showlegend=False, xaxis=xa, yaxis=ya))
    layout["xaxis" if i == 1 else f"xaxis{i}"] = xaxis
    layout["yaxis" if i == 1 else f"yaxis{i}"] = yaxis
    annotations.append(dict(text=p["xl"], x=fx((x0 + x1) / 2), y=fy(y1 + XTITLE_DY[p["r"]]),
                            xref="paper", yref="paper", showarrow=False, xanchor="center", yanchor="middle",
                            font=dict(size=30, color="black", family=FONT)))
    annotations.append(dict(text=p["yl"], x=fx(YTITLE_X[p["c"]]), y=fy((y0 + y1) / 2), xref="paper",
                            yref="paper", showarrow=False, textangle=-90, xanchor="center", yanchor="middle",
                            font=dict(size=30, color="black", family=FONT)))

# main titles: anchored at the top edge of the figure so they are not clipped
for t, x in [("Southern Georges Bank", 360), ("Northern Georges Bank", 1008)]:
    annotations.append(dict(text=t, x=fx(x), y=1.0, xref="paper", yref="paper", showarrow=False,
                            xanchor="center", yanchor="top", borderpad=0,
                            font=dict(size=37, color="black", family=FONT)))
for t, x in [("Prevalence", 194), ("Meat quality", 522), ("Prevalence", 848), ("Meat quality", 1175)]:
    annotations.append(dict(text=t, x=fx(x), y=fy(72), xref="paper", yref="paper", showarrow=False,
                            xanchor="center", yanchor="middle", font=dict(size=33, color="black", family=FONT)))

fig.update_layout(**layout)
fig.update_layout(
    width=W, height=H, margin=dict(l=0, r=0, t=0, b=0, pad=0, autoexpand=False), paper_bgcolor="white",
    plot_bgcolor="white", font=dict(family=FONT), annotations=annotations, barmode="overlay",
    legend=dict(x=fx(12), y=fy(717), xanchor="left", yanchor="top", bordercolor="black", borderwidth=2,
                bgcolor="white", font=dict(size=26, color="black", family=FONT), itemwidth=30,
                traceorder="normal"),
)
fig.write_html("out.html")
